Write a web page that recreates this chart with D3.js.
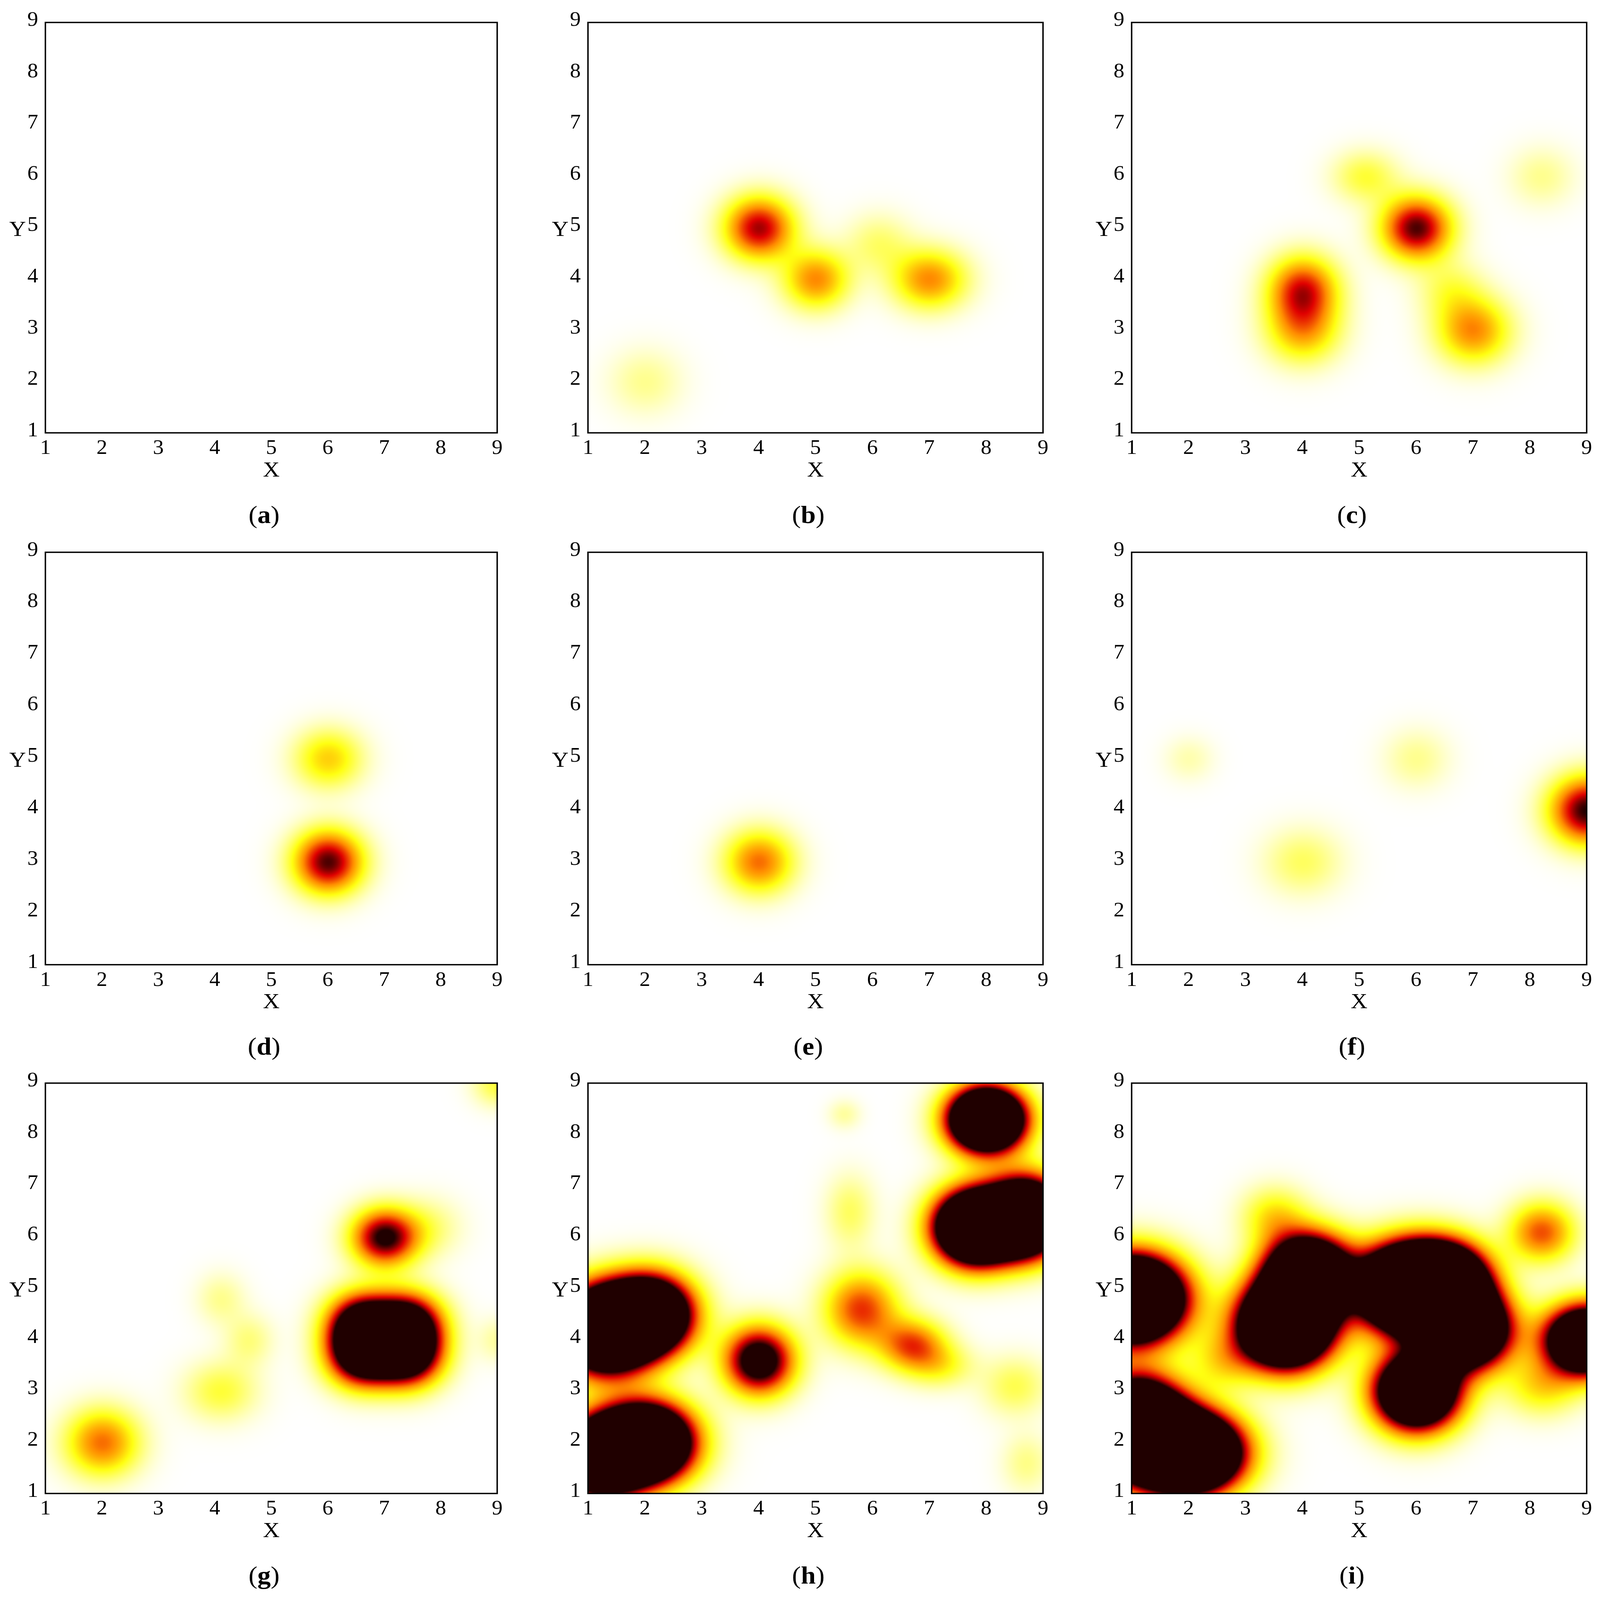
<!DOCTYPE html>
<html><head><meta charset="utf-8">
<script src="https://cdn.jsdelivr.net/npm/d3@7"></script>
<style>html,body{margin:0;padding:0;background:#fff;overflow:hidden}svg{display:block;width:100vw;height:100vh}</style></head>
<body><svg id="c" viewBox="0 0 4441 4702" preserveAspectRatio="none"></svg>
<script>
const panelLabels = ["a","b","c","d","e","f","g","h","i"];
const tickValues = [1,2,3,4,5,6,7,8,9];
// blobs: [x, y, amplitude, sigmaX, sigmaY]
const blobsA = [];
const blobsB = [[4,5,0.85,0.42,0.42],[5,4,0.55,0.4,0.4],[7,4,0.55,0.45,0.4],[6.1,4.7,0.18,0.4,0.4],[2,2,0.14,0.45,0.45]];
const blobsC = [[4,3.8,0.75,0.42,0.45],[4,3.0,0.45,0.45,0.45],[6,5,0.95,0.42,0.42],[7,3,0.55,0.45,0.45],[6.6,3.8,0.2,0.4,0.4],[5.1,6,0.25,0.4,0.35],[8.2,6,0.14,0.4,0.4]];
const blobsD = [[6,3,0.95,0.42,0.42],[6,5,0.4,0.42,0.4]];
const blobsE = [[4,3,0.6,0.42,0.42]];
const blobsF = [[2,5,0.1,0.3,0.3],[6,5,0.14,0.4,0.4],[4,3,0.2,0.48,0.45],[9,4,1.0,0.45,0.45]];
const blobsG = [[2,2,0.6,0.45,0.45],[4.1,3,0.25,0.45,0.4],[4.1,4.8,0.14,0.3,0.35],[4.6,4,0.16,0.3,0.35],[7,6,1.05,0.4,0.38],[6.6,4.3,1.3,0.42,0.42],[7.4,4.3,1.3,0.42,0.42],[6.6,3.7,1.3,0.42,0.42],[7.4,3.7,1.3,0.42,0.42],[7.8,6.2,0.15,0.4,0.4],[9,9,0.25,0.3,0.3],[9,4,0.12,0.25,0.3]];
const blobsH = [[1.3,4.2,2.8,0.55,0.55],[2.1,4.5,2.2,0.5,0.5],[2,2,2.8,0.55,0.5],[1.2,1.7,2.2,0.5,0.5],[4,3.6,1.3,0.42,0.45],[5.8,4.6,0.7,0.45,0.5],[6.7,3.9,0.65,0.4,0.35],[5.6,6.5,0.2,0.3,0.5],[8,8.3,2.8,0.45,0.42],[7.8,6.2,2.8,0.48,0.48],[8.7,6.4,2.6,0.45,0.5],[8.5,3.1,0.22,0.4,0.4],[8.7,1.6,0.15,0.3,0.4],[5.5,8.4,0.12,0.2,0.2],[7.2,3.5,0.25,0.4,0.3]];
const blobsI = [[1,4.8,3.2,0.6,0.55],[1.1,2.3,3.2,0.55,0.6],[2,1.8,3.2,0.6,0.5],[3.7,4.3,3,0.55,0.55],[4.1,5.3,2.4,0.5,0.5],[5.8,5,3,0.55,0.55],[6.5,5.1,2.6,0.5,0.5],[6,3,2.4,0.5,0.5],[6.9,4.2,2.4,0.5,0.5],[8.2,6.1,0.65,0.4,0.4],[9,4,2.4,0.5,0.45],[8.2,3.1,0.35,0.45,0.4],[3.5,6.4,0.35,0.4,0.4],[2.6,3.6,0.3,0.4,0.4]];
const allBlobs = [blobsA,blobsB,blobsC,blobsD,blobsE,blobsF,blobsG,blobsH,blobsI];
const colX = [[126,1380],[1632,2895],[3141,4404]];
const rowY = [[66,1272],[1623,2835],[3183,4389]];

const color = d3.scaleLinear().domain([0,0.3,0.55,0.78,1])
  .range(["#ffffff","#ffff10","#ff8c00","#e00000","#200000"]).clamp(true);
const svg = d3.select("#c");
const font = "'Liberation Serif','DejaVu Serif',serif";

allBlobs.forEach((blobs,i)=>{
  const [x0,x1] = colX[i%3], [y0,y1] = rowY[Math.floor(i/3)];
  const x = d3.scaleLinear().domain([1,9]).range([x0,x1]);
  const y = d3.scaleLinear().domain([1,9]).range([y1,y0]);
  const W = Math.round(x1-x0), H = Math.round(y1-y0), s=3;
  const cw = Math.ceil(W/s), ch = Math.ceil(H/s);
  const cv = document.createElement("canvas"); cv.width=cw; cv.height=ch;
  const ctx = cv.getContext("2d"); const img = ctx.createImageData(cw,ch);
  for(let j=0;j<ch;j++){ const vy = y.invert(y0+j*s);
    for(let k=0;k<cw;k++){ const vx = x.invert(x0+k*s);
      let v=0; for(const b of blobs){ const dx=(vx-b[0])/b[3], dy=(vy-b[1])/b[4]; v+=b[2]*Math.exp(-0.5*(dx*dx+dy*dy)); }
      const c = d3.rgb(color(v)); const p=(j*cw+k)*4;
      img.data[p]=c.r; img.data[p+1]=c.g; img.data[p+2]=c.b; img.data[p+3]=255; } }
  ctx.putImageData(img,0,0);
  const g = svg.append("g");
  g.append("image").attr("href",cv.toDataURL()).attr("x",x0).attr("y",y0).attr("width",W).attr("height",H).attr("preserveAspectRatio","none");
  g.append("rect").attr("x",x0).attr("y",y0).attr("width",W).attr("height",H).attr("fill","none").attr("stroke","#000").attr("stroke-width",4);
  g.selectAll(".xt").data(tickValues).join("text").attr("x",d=>x(d)).attr("y",y1+62)
    .attr("text-anchor","middle").attr("font-family",font).attr("font-size",60).text(d=>d);
  g.selectAll(".yt").data(tickValues).join("text").attr("x",x0-20).attr("y",d=>y(d)+10)
    .attr("text-anchor","end").attr("font-family",font).attr("font-size",60).text(d=>d);
  g.append("text").attr("x",x(5)).attr("y",y1+128).attr("text-anchor","middle").attr("font-family",font).attr("font-size",64).text("X");
  g.append("text").attr("x",x0-54).attr("y",y(5)+24).attr("text-anchor","end").attr("font-family",font).attr("font-size",64).text("Y");
  const t = g.append("text").attr("x",x(5)-20).attr("y",y1+265).attr("text-anchor","middle").attr("font-family",font).attr("font-size",74);
  t.append("tspan").text("("); t.append("tspan").attr("font-weight","bold").text(panelLabels[i]); t.append("tspan").text(")");
});
</script></body></html>
